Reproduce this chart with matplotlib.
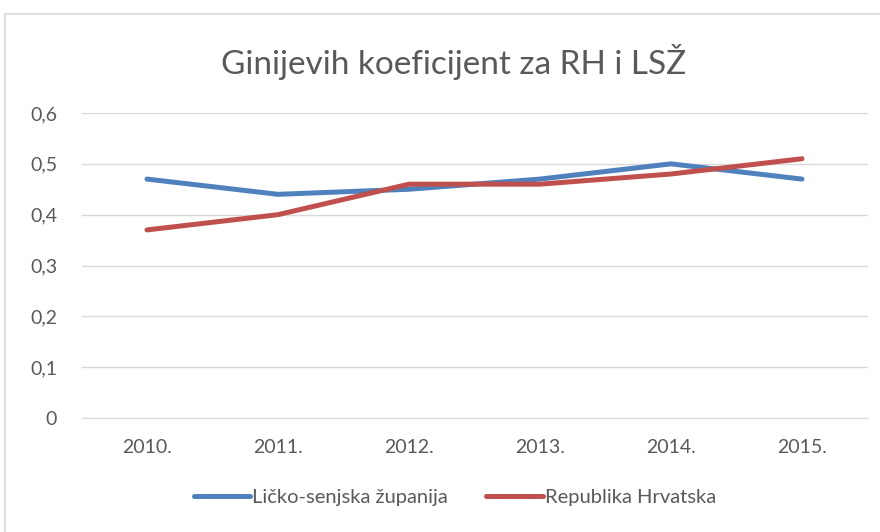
import numpy as np
import matplotlib.pyplot as plt
from matplotlib.patches import Rectangle

plt.rcParams['font.family'] = ['Lato', 'DejaVu Sans']

years = ['2010.', '2011.', '2012.', '2013.', '2014.', '2015.']
lsz = [0.47, 0.44, 0.45, 0.47, 0.50, 0.47]
rh = [0.37, 0.40, 0.46, 0.46, 0.48, 0.51]
yticks = [0, 0.1, 0.2, 0.3, 0.4, 0.5, 0.6]

txt = '#595959'

fig = plt.figure(figsize=(8.8, 5.32), dpi=100)
# outer chart border
fig.patches.append(Rectangle((5 / 880, -0.05), 1.0, 1 - 14 / 532 + 0.05,
                             transform=fig.transFigure, fill=False,
                             edgecolor='#d9d9d9', linewidth=1.2))

ax = fig.add_axes([81.5 / 880, 1 - 418 / 532, 786 / 880, 305 / 532])
x = np.arange(len(years))
ax.plot(x, lsz, color='#4f81bd', linewidth=3.6, solid_capstyle='round',
        label='Ličko-senjska županija')
ax.plot(x, rh, color='#c0504d', linewidth=3.6, solid_capstyle='round',
        label='Republika Hrvatska')

ax.set_xlim(-0.5, len(years) - 0.5)
ax.set_ylim(0, 0.6)
ax.set_yticks(yticks)
ax.set_yticklabels([('%g' % v).replace('.', ',') for v in yticks])
ax.set_xticks(x)
ax.set_xticklabels(years)
ax.grid(axis='y', color='#d9d9d9', linewidth=1)
ax.set_axisbelow(True)
for s in ['top', 'right', 'left']:
    ax.spines[s].set_visible(False)
ax.spines['bottom'].set_color('#d9d9d9')
ax.tick_params(length=0, labelsize=14, colors=txt)
ax.tick_params(axis='y', pad=17.5)
ax.tick_params(axis='x', pad=15)

fig.text(454 / 880, 1 - 62 / 532, 'Ginijevih koeficijent za RH i LSŽ', ha='center',
         va='center', fontsize=24, color=txt)
fig.legend(loc='center', bbox_to_anchor=(455 / 880, 1 - 497 / 532), ncol=2,
           frameon=False, fontsize=14.5, labelcolor=txt, handlelength=2.8,
           columnspacing=1.9, handletextpad=0.1)

fig.savefig('out.png', dpi=100)
